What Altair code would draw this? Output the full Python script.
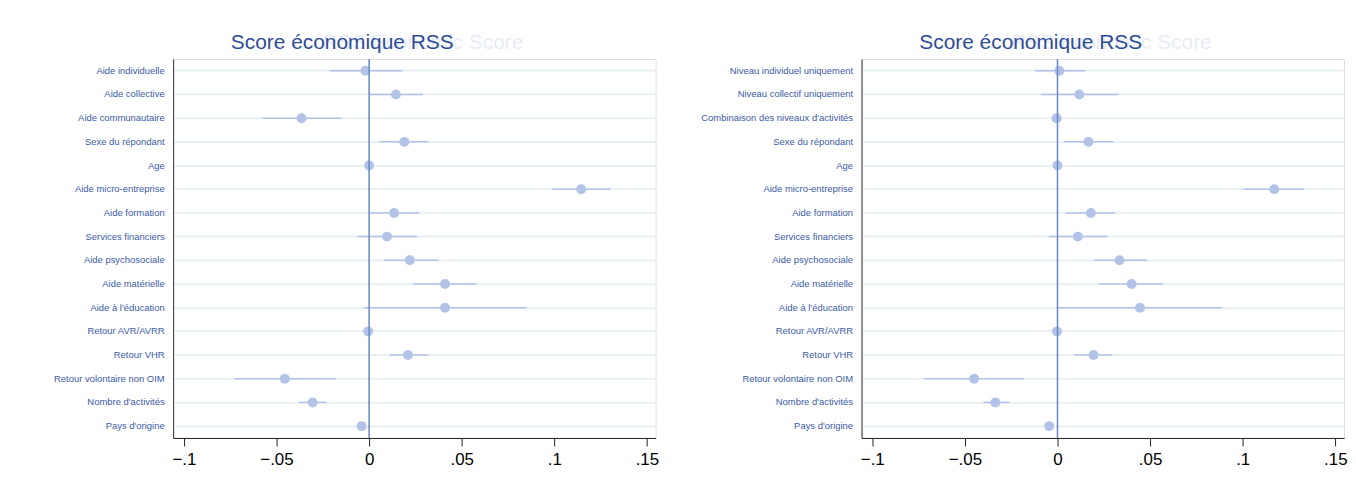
import altair as alt
import pandas as pd

labels_left = ["Aide individuelle", "Aide collective", "Aide communautaire", "Sexe du répondant", "Age",
               "Aide micro-entreprise", "Aide formation", "Services financiers", "Aide psychosociale",
               "Aide matérielle", "Aide à l'éducation", "Retour AVR/AVRR", "Retour VHR",
               "Retour volontaire non OIM", "Nombre d'activités", "Pays d'origine"]
coef_left = [-0.002, 0.0145, -0.0365, 0.019, 0.0, 0.1145, 0.0135, 0.0097, 0.022, 0.041, 0.041,
             -0.0005, 0.021, -0.0455, -0.0305, -0.004]
lo_left = [-0.021, 0.0005, -0.0575, 0.0055, -0.0005, 0.099, 0.0005, -0.0065, 0.008, 0.024, -0.003,
           -0.001, 0.011, -0.0725, -0.038, -0.0045]
hi_left = [0.018, 0.029, -0.015, 0.032, 0.0005, 0.1305, 0.027, 0.026, 0.0375, 0.058, 0.085,
           0.0, 0.032, -0.018, -0.023, -0.0035]

labels_right = ["Niveau individuel uniquement", "Niveau collectif uniquement",
                "Combinaison des niveaux d'activités", "Sexe du répondant", "Age",
                "Aide micro-entreprise", "Aide formation", "Services financiers", "Aide psychosociale",
                "Aide matérielle", "Aide à l'éducation", "Retour AVR/AVRR", "Retour VHR",
                "Retour volontaire non OIM", "Nombre d'activités", "Pays d'origine"]
coef_right = [0.001, 0.0118, -0.0005, 0.0167, 0.0, 0.117, 0.018, 0.011, 0.0335, 0.040, 0.0445,
              -0.0003, 0.0195, -0.045, -0.0335, -0.0045]
lo_right = [-0.012, -0.009, -0.001, 0.0035, -0.0005, 0.1005, 0.0045, -0.0045, 0.020, 0.0225, 0.0,
            -0.0008, 0.009, -0.072, -0.040, -0.005]
hi_right = [0.015, 0.033, 0.0, 0.030, 0.0005, 0.133, 0.031, 0.027, 0.0485, 0.057, 0.089,
            0.0002, 0.0296, -0.018, -0.026, -0.004]

x_ticks = [-0.1, -0.05, 0, 0.05, 0.1, 0.15]
title_text = "Score économique RSS"
ghost_title = "RSS Economic Score"

FONT = "Liberation Sans"
POINT_COLOR = "#b3c3e7"
LINE_COLOR = "#6a87c9"
LABEL_COLOR = "#3c5aa6"
TITLE_COLOR = "#2d4c95"


def panel(labels, coef, lo, hi, extent):
    df = pd.DataFrame({"label": labels, "coef": coef, "lo": lo, "hi": hi})
    x_scale = alt.Scale(domain=[-0.1058, 0.1547], nice=False, zero=False)
    y_enc = alt.Y("label:N", sort=labels,
                  scale=alt.Scale(domain=labels, paddingInner=0, paddingOuter=0),
                  axis=alt.Axis(title=None, labelFontSize=9.5, labelColor=LABEL_COLOR, labelFont=FONT,
                                ticks=False, domainColor="#333333", domainWidth=1,
                                grid=True, gridColor="#e9f0f3", gridWidth=2, bandPosition=0.5,
                                labelPadding=9, minExtent=extent, labelLimit=300))
    x_axis = alt.Axis(values=x_ticks, title=None, grid=False,
                      labelExpr="datum.value == 0 ? '0' : replace(format(datum.value, '~g'), '0.', '.')",
                      tickColor="#222222", domainColor="#222222", tickSize=8, tickWidth=1,
                      labelFontSize=17, labelColor="black", labelFont=FONT, labelPadding=6)
    base = alt.Chart(df)
    ci = base.mark_rule(color=POINT_COLOR, strokeWidth=1.5).encode(
        x=alt.X("lo:Q", scale=x_scale, axis=x_axis), x2="hi:Q", y=y_enc)
    pts = base.mark_circle(size=100, opacity=1, color=POINT_COLOR).encode(
        x=alt.X("coef:Q", scale=x_scale, axis=x_axis), y=y_enc)
    zero = alt.Chart(pd.DataFrame({"v": [0]})).mark_rule(color=LINE_COLOR, strokeWidth=1.5).encode(
        x=alt.X("v:Q", scale=x_scale, axis=x_axis))
    ghost = alt.Chart(pd.DataFrame({"t": [ghost_title]})).mark_text(
        align="right", baseline="middle", fontSize=21, font=FONT, color="#e7ecf6").encode(
        text="t:N", x=alt.value(352), y=alt.value(-16))
    title = alt.Chart(pd.DataFrame({"t": [title_text]})).mark_text(
        align="center", baseline="middle", fontSize=21, font=FONT, color=TITLE_COLOR).encode(
        text="t:N", x=alt.value(170), y=alt.value(-16))
    return alt.layer(ci, pts, zero, ghost, title).properties(width=485, height=381)


left = panel(labels_left, coef_left, lo_left, hi_left, 165)
right = panel(labels_right, coef_right, lo_right, hi_right, 160)

chart = alt.hconcat(left, right, spacing=40).properties(
    padding={"left": 0, "top": 22, "right": 0, "bottom": 0}
).configure_view(stroke=None).configure(background="white")

chart.save("out.html", embed_options={"renderer": "svg", "actions": False})
